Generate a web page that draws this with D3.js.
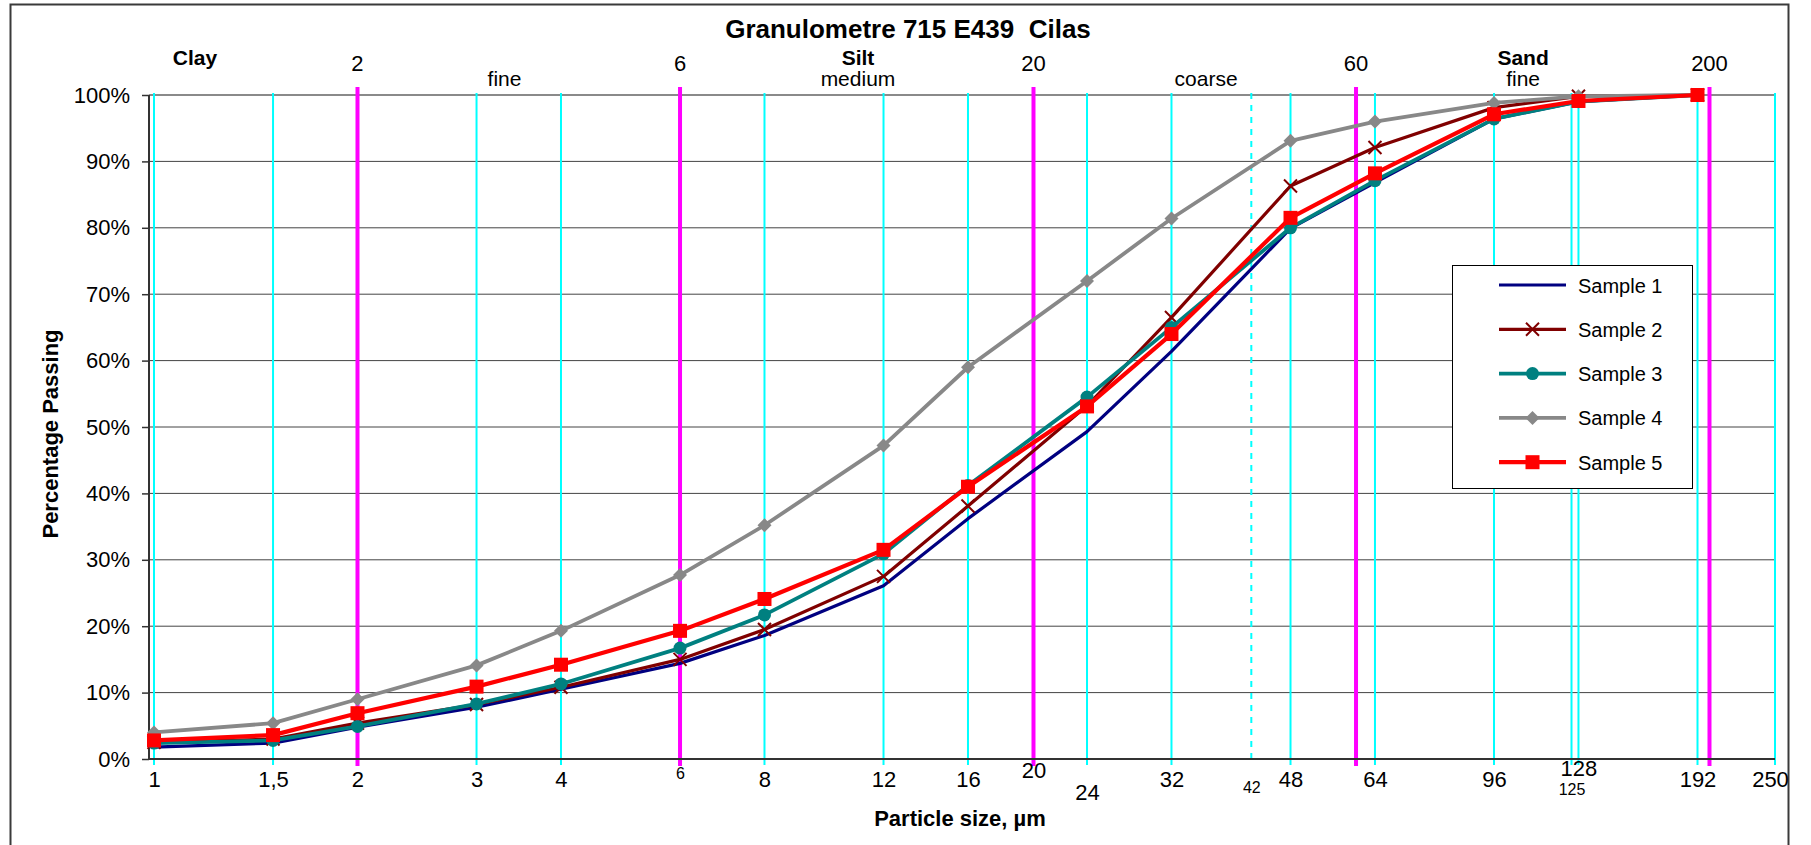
<!DOCTYPE html>
<html><head><meta charset="utf-8">
<script src="https://cdn.jsdelivr.net/npm/d3@7"></script>
<style>
html,body{margin:0;padding:0;background:#fff;}
text{font-family:"Liberation Sans",Arial,sans-serif;fill:#000;}
</style></head>
<body><div id="chart"></div>
<script>
// ---------- data ----------
const sizes   = [1, 1.5, 2, 3, 4, 6, 8, 12, 16, 24, 32, 48, 64, 96, 128, 192];
const sample1 = [1.8, 2.4, 4.8, 7.8, 10.5, 14.4, 18.6, 26.1, 36.2, 49.3, 61.4, 79.9, 86.8, 96.4, 99.0, 100];
const sample2 = [2.5, 3.0, 5.4, 8.2, 10.8, 15.0, 19.5, 27.5, 38.1, 53.2, 66.5, 86.3, 92.1, 98.1, 99.8, 100];
const sample3 = [2.4, 2.8, 4.9, 8.3, 11.3, 16.7, 21.7, 30.9, 41.2, 54.5, 65.0, 80.0, 87.1, 96.4, 99.0, 100];
const sample4 = [4.0, 5.4, 9.0, 14.1, 19.3, 27.7, 35.2, 47.2, 59.0, 72.0, 81.4, 93.1, 96.0, 98.8, 99.8, 100];
const sample5 = [2.8, 3.6, 6.9, 10.9, 14.2, 19.3, 24.1, 31.5, 41.0, 53.1, 64.0, 81.5, 88.2, 97.1, 99.1, 100];
const seriesNames = ["Sample 1", "Sample 2", "Sample 3", "Sample 4", "Sample 5"];

const yTicks = [0,10,20,30,40,50,60,70,80,90,100];
const xTickValues = [1, 1.5, 2, 3, 4, 6, 8, 12, 16, 20, 24, 32, 42, 48, 64, 96, 128, 125, 192, 250];
const xTickLabels = ["1","1,5","2","3","4","6","8","12","16","20","24","32","42","48","64","96","128","125","192","250"];
const cyanLines = [1, 1.5, 2, 3, 4, 8, 12, 16, 24, 32, 48, 64, 96, 125, 128, 192, 250];
const dashedLines = [42];
const boundaries = [2, 6, 20, 60, 200];
const boundaryLabels = ["2", "6", "20", "60", "200"];
const zoneNames = ["Clay", "Silt", "Sand"];
const subNames = ["fine", "medium", "coarse", "fine"];
const subAt = [3.3, 11, 36, 106];   // particle size under which each sub-label sits
const zoneAt = [1.15, 11, 106];

const title = "Granulometre 715 E439  Cilas";
const xTitle = "Particle size, µm";
const yTitle = "Percentage Passing";

// ---------- layout ----------
const W = 1811, H = 845;
const svg = d3.select("#chart").append("svg").attr("width", W).attr("height", H);
svg.append("rect").attr("width", W).attr("height", H).attr("fill", "#fff");
svg.append("rect").attr("x", 10.5).attr("y", 4.5).attr("width", 1778).attr("height", 860)
  .attr("fill", "none").attr("stroke", "#3a3a3a").attr("stroke-width", 2);

const x = d3.scaleLog().domain([1, 250]).range([154, 1775]);
const y = d3.scaleLinear().domain([0, 100]).range([759, 95]);
const axisX = 149;

// gridlines
svg.append("g").selectAll("line").data(yTicks).join("line")
  .attr("x1", axisX).attr("x2", x(250)).attr("y1", d => y(d)).attr("y2", d => y(d))
  .attr("stroke", d => d === 100 ? "#8a8a8a" : "#444").attr("stroke-width", d => d === 100 ? 2 : 1);

// vertical guide lines
svg.append("g").selectAll("line").data(cyanLines).join("line")
  .attr("x1", d => x(d)).attr("x2", d => x(d)).attr("y1", 93).attr("y2", 765)
  .attr("stroke", "#00ffff").attr("stroke-width", 2);
svg.append("g").selectAll("line").data(dashedLines).join("line")
  .attr("x1", d => x(d)).attr("x2", d => x(d)).attr("y1", 93).attr("y2", 765)
  .attr("stroke", "#00ffff").attr("stroke-width", 2).attr("stroke-dasharray", "6,6");
svg.append("g").selectAll("line").data(boundaries).join("line")
  .attr("x1", d => x(d)).attr("x2", d => x(d)).attr("y1", 87).attr("y2", 766)
  .attr("stroke", "#ff00ff").attr("stroke-width", 4);

// axes lines
svg.append("line").attr("x1", axisX).attr("x2", axisX).attr("y1", y(100)).attr("y2", y(0))
  .attr("stroke", "#333").attr("stroke-width", 2);
svg.append("line").attr("x1", axisX).attr("x2", x(250)).attr("y1", y(0)).attr("y2", y(0))
  .attr("stroke", "#333").attr("stroke-width", 2);

// y axis
const yAxis = svg.append("g").attr("transform", `translate(${axisX},0)`)
  .call(d3.axisLeft(y).tickValues(yTicks).tickFormat(d => d + "%").tickSize(7).tickPadding(12));
yAxis.select(".domain").remove();
yAxis.selectAll(".tick line").attr("stroke", "#333").attr("stroke-width", 1.5);
yAxis.selectAll(".tick text").style("font-size", "22px").style("font-family", "Liberation Sans, Arial");

// x tick labels
const smallLabels = {"6": 1, "42": 1, "125": 1};
const dyMap = {"6": -8, "20": -9, "24": 13, "42": 6, "128": -11, "125": 8};
const dxMap = {"250": -5};
const xAxis = svg.append("g").attr("transform", `translate(0,${y(0)})`)
  .call(d3.axisBottom(x).tickValues(xTickValues).tickFormat((d, i) => xTickLabels[i]).tickSize(0).tickPadding(0));
xAxis.select(".domain").remove();
xAxis.selectAll(".tick text")
  .attr("y", 0).attr("dy", 0)
  .attr("transform", (d, i) => {
    const l = xTickLabels[i];
    return `translate(${dxMap[l] || 0},${28 + (dyMap[l] || 0)})`;
  })
  .style("font-size", (d, i) => smallLabels[xTickLabels[i]] ? "16px" : "22px")
  .style("font-family", "Liberation Sans, Arial");

// top annotations
svg.append("g").selectAll("text").data(boundaries).join("text")
  .attr("x", d => x(d)).attr("y", 71).attr("text-anchor", "middle")
  .style("font-size", "22px").text((d, i) => boundaryLabels[i]);
svg.append("g").selectAll("text").data(subNames).join("text")
  .attr("x", (d, i) => x(subAt[i])).attr("y", 86).attr("text-anchor", "middle")
  .style("font-size", "21px").text(d => d);
svg.append("g").selectAll("text").data(zoneNames).join("text")
  .attr("x", (d, i) => x(zoneAt[i])).attr("y", 65).attr("text-anchor", "middle")
  .style("font-size", "21px").style("font-weight", "bold").text(d => d);

// titles
svg.append("text").attr("x", 908).attr("y", 38).attr("text-anchor", "middle")
  .attr("xml:space", "preserve").style("white-space", "pre")
  .style("font-size", "26px").style("font-weight", "bold").text(title);
svg.append("text").attr("x", 960).attr("y", 826).attr("text-anchor", "middle")
  .style("font-size", "22px").style("font-weight", "bold").text(xTitle);
svg.append("text").attr("transform", "translate(58,434) rotate(-90)").attr("text-anchor", "middle")
  .style("font-size", "22px").style("font-weight", "bold").text(yTitle);

// series
const allValues = [sample1, sample2, sample3, sample4, sample5];
const colors = ["#000080", "#800000", "#008080", "#888888", "#ff0000"];
const widths = [3.2, 3.2, 3.8, 3.8, 4.2];
const markers = ["none", "x", "circle", "diamond", "square"];

function drawMarker(g, type, cx, cy, color) {
  if (type === "x") {
    const r = 6.5;
    g.append("path").attr("d", `M${cx - r},${cy - r}L${cx + r},${cy + r}M${cx - r},${cy + r}L${cx + r},${cy - r}`)
      .attr("stroke", color).attr("stroke-width", 2).attr("fill", "none");
  } else if (type === "circle") {
    g.append("circle").attr("cx", cx).attr("cy", cy).attr("r", 6.5).attr("fill", color);
  } else if (type === "diamond") {
    const r = 7;
    g.append("path").attr("d", `M${cx},${cy - r}L${cx + r},${cy}L${cx},${cy + r}L${cx - r},${cy}Z`).attr("fill", color);
  } else if (type === "square") {
    const r = 7;
    g.append("rect").attr("x", cx - r).attr("y", cy - r).attr("width", 2 * r).attr("height", 2 * r).attr("fill", color);
  }
}

const line = d3.line().x(d => x(d[0])).y(d => y(d[1]));
allValues.forEach((vals, k) => {
  const pts = sizes.map((s, i) => [s, vals[i]]);
  const g = svg.append("g");
  g.append("path").datum(pts).attr("d", line).attr("fill", "none")
    .attr("stroke", colors[k]).attr("stroke-width", widths[k]).attr("stroke-linejoin", "round");
  pts.forEach(p => drawMarker(g, markers[k], x(p[0]), y(p[1]), colors[k]));
});

// legend
const lg = svg.append("g");
lg.append("rect").attr("x", 1452.5).attr("y", 265.5).attr("width", 240).attr("height", 223)
  .attr("fill", "#fff").attr("stroke", "#000").attr("stroke-width", 1);
seriesNames.forEach((name, k) => {
  const cy = 285 + k * 44.3;
  lg.append("line").attr("x1", 1499).attr("x2", 1566).attr("y1", cy).attr("y2", cy)
    .attr("stroke", colors[k]).attr("stroke-width", widths[k]);
  drawMarker(lg, markers[k], 1532.5, cy, colors[k]);
  lg.append("text").attr("x", 1578).attr("y", cy + 7.5).style("font-size", "20px").text(name);
});
</script></body></html>
